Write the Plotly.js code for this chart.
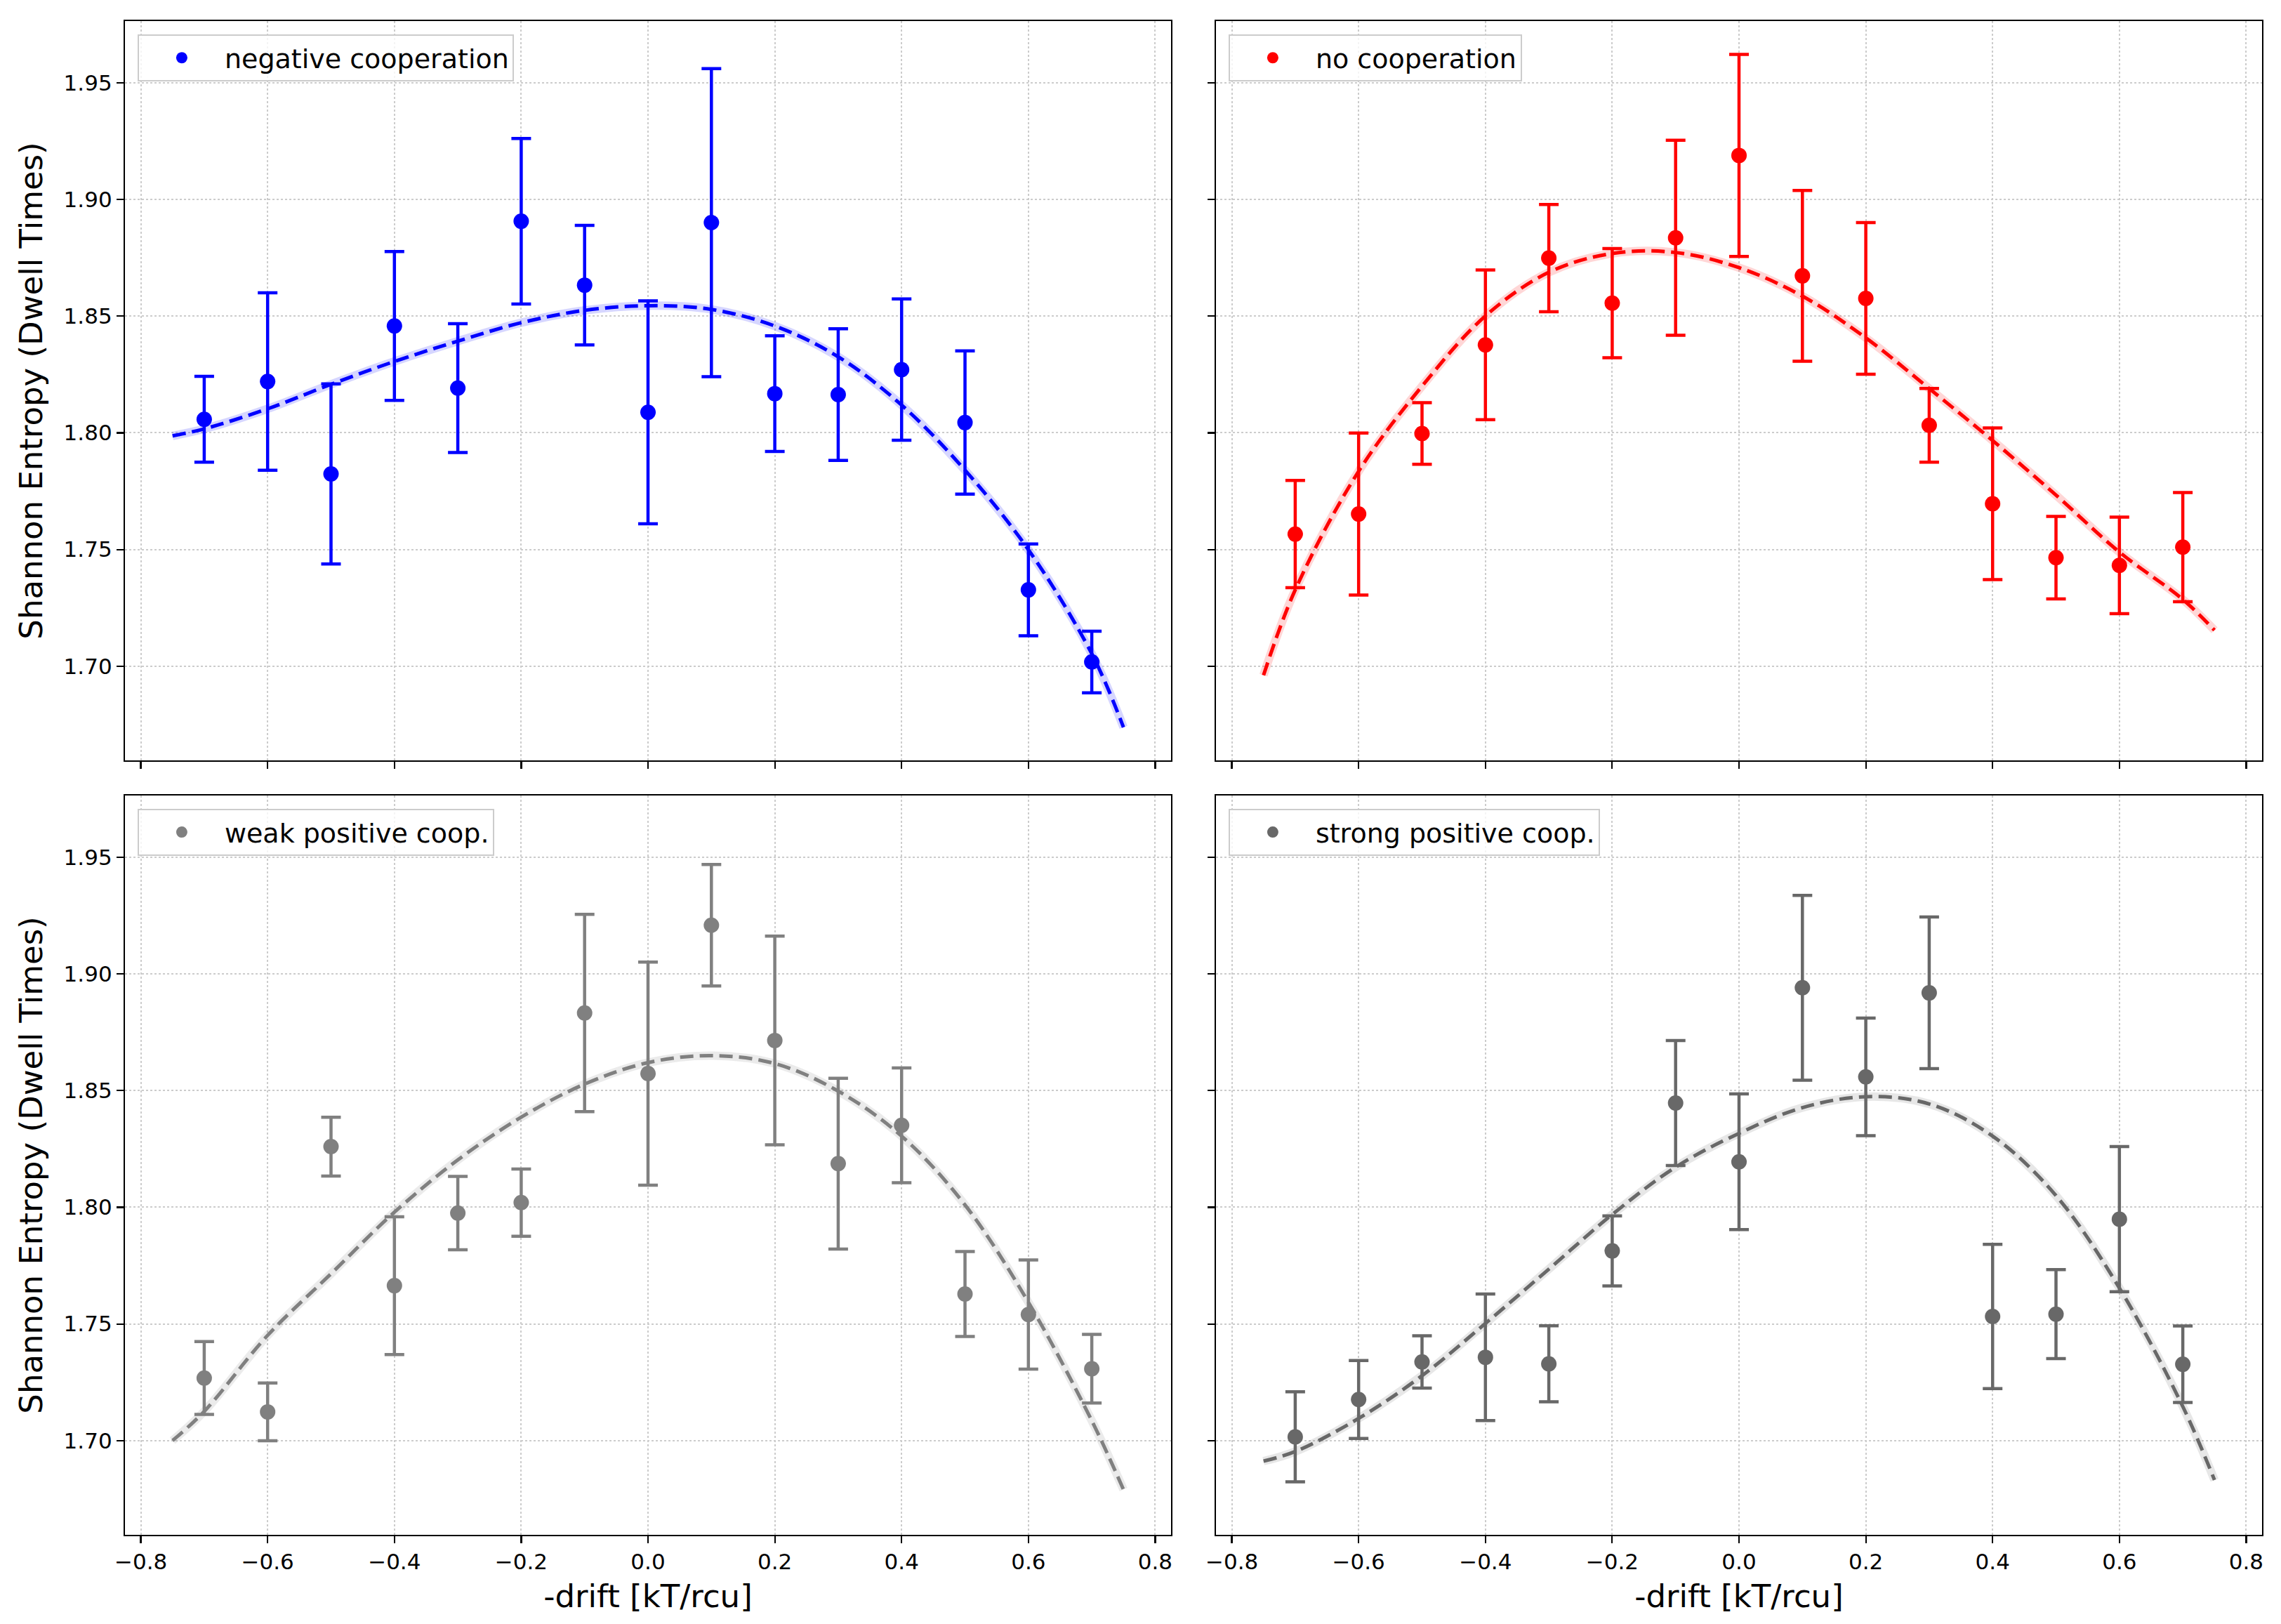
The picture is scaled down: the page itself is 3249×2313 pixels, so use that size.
<!DOCTYPE html>
<html>
<head>
<meta charset="utf-8">
<script src="https://cdn.plot.ly/plotly-3.0.1.min.js"></script>
<style>
  html, body { margin: 0; padding: 0; background: #fff; }
</style>
</head>
<body>
<div id="chart" style="width:3249px;height:2313px;"></div>
<script>
// drift values where entropy was measured
var driftX = [-0.7, -0.6, -0.5, -0.4, -0.3, -0.2, -0.1, 0.0, 0.1, 0.2, 0.3, 0.4, 0.5, 0.6, 0.7];

var negY   = [1.8058, 1.8220, 1.7824, 1.8458, 1.8192, 1.8907, 1.8633, 1.8088, 1.8901, 1.8168, 1.8164, 1.8271, 1.8044, 1.7327, 1.7018];
var negErr = [0.0184, 0.0380, 0.0386, 0.0319, 0.0276, 0.0355, 0.0256, 0.0478, 0.0660, 0.0248, 0.0282, 0.0303, 0.0307, 0.0197, 0.0132];

var noY    = [1.7566, 1.7652, 1.7997, 1.8377, 1.8749, 1.8556, 1.8836, 1.9189, 1.8673, 1.8576, 1.8032, 1.7696, 1.7465, 1.7432, 1.7510];
var noErr  = [0.0230, 0.0347, 0.0132, 0.0321, 0.0230, 0.0234, 0.0418, 0.0433, 0.0366, 0.0325, 0.0158, 0.0325, 0.0177, 0.0207, 0.0234];

var weakY   = [1.7268, 1.7123, 1.8260, 1.7664, 1.7975, 1.8020, 1.8833, 1.8573, 1.9209, 1.8715, 1.8187, 1.8351, 1.7628, 1.7540, 1.7308];
var weakErr = [0.0156, 0.0124, 0.0126, 0.0295, 0.0157, 0.0144, 0.0423, 0.0478, 0.0260, 0.0447, 0.0366, 0.0246, 0.0182, 0.0234, 0.0147];

var strongY   = [1.7016, 1.7176, 1.7337, 1.7357, 1.7329, 1.7813, 1.8447, 1.8195, 1.8941, 1.8559, 1.8919, 1.7532, 1.7542, 1.7949, 1.7327];
var strongErr = [0.0193, 0.0167, 0.0112, 0.0271, 0.0163, 0.0150, 0.0268, 0.0291, 0.0396, 0.0252, 0.0325, 0.0309, 0.0191, 0.0311, 0.0164];

// fitted curves
var fitX = [-0.75, -0.7, -0.6, -0.5, -0.4, -0.3, -0.2, -0.1, 0.0, 0.1, 0.2, 0.3, 0.4, 0.5, 0.6, 0.7, 0.75];
var negFit    = [1.7987, 1.8017, 1.8103, 1.8208, 1.8306, 1.8393, 1.8472, 1.8525, 1.8545, 1.8529, 1.8458, 1.8326, 1.8119, 1.7840, 1.7499, 1.7053, 1.6738];
var noFit     = [1.6961, 1.7327, 1.7835, 1.8200, 1.8501, 1.8688, 1.8769, 1.8773, 1.8708, 1.8586, 1.8407, 1.8190, 1.7967, 1.7733, 1.7489, 1.7286, 1.7154];
var weakFit   = [1.7000, 1.7125, 1.7451, 1.7715, 1.7979, 1.8203, 1.8386, 1.8528, 1.8620, 1.8650, 1.8616, 1.8498, 1.8305, 1.8010, 1.7593, 1.7085, 1.6790];
var strongFit = [1.6912, 1.6953, 1.7095, 1.7278, 1.7502, 1.7735, 1.7969, 1.8172, 1.8317, 1.8427, 1.8474, 1.8443, 1.8305, 1.8050, 1.7654, 1.7146, 1.6831];

var labels = ['negative cooperation', 'no cooperation', 'weak positive coop.', 'strong positive coop.'];

var panels = [
  {y: negY, err: negErr, fit: negFit, color: '#0000ff', band: 'rgba(0,0,255,0.16)', xa: 'x', ya: 'y', legend: 'legend'},
  {y: noY, err: noErr, fit: noFit, color: '#ff0000', band: 'rgba(255,0,0,0.16)', xa: 'x2', ya: 'y2', legend: 'legend2'},
  {y: weakY, err: weakErr, fit: weakFit, color: '#808080', band: 'rgba(128,128,128,0.16)', xa: 'x3', ya: 'y3', legend: 'legend3'},
  {y: strongY, err: strongErr, fit: strongFit, color: '#686868', band: 'rgba(104,104,104,0.16)', xa: 'x4', ya: 'y4', legend: 'legend4'}
];

var data = [];
panels.forEach(function(p, i) {
  // light band under the fit
  data.push({
    type: 'scatter', mode: 'lines', x: fitX, y: p.fit,
    xaxis: p.xa, yaxis: p.ya, showlegend: false, hoverinfo: 'skip',
    line: {color: p.band, width: 12, shape: 'spline'}
  });
  data.push({
    type: 'scatter', mode: 'lines', x: fitX, y: p.fit,
    xaxis: p.xa, yaxis: p.ya, showlegend: false,
    line: {color: p.color, width: 5, dash: '19px,9px', shape: 'spline'}
  });
  data.push({
    type: 'scatter', mode: 'markers', name: labels[i], x: driftX, y: p.y,
    xaxis: p.xa, yaxis: p.ya, legend: p.legend,
    marker: {color: p.color, size: 22},
    error_y: {type: 'data', array: p.err, visible: true, color: p.color, thickness: 4.5, width: 14}
  });
});

var yRange = [1.6596, 1.9765];
var xRange = [-0.825, 0.825];
var tickFont = {family: 'DejaVu Sans', size: 31, color: '#000'};
var titleFont = {family: 'DejaVu Sans', size: 45, color: '#000'};

function xAxis(dom, anchor, showLabels) {
  var a = {
    domain: dom, anchor: anchor, range: xRange, dtick: 0.2, tick0: -0.8, tickformat: '.1f',
    showticklabels: showLabels, ticks: 'outside', ticklen: 10, tickwidth: 2.2, tickcolor: '#000',
    showline: true, linecolor: '#000', linewidth: 2.2, mirror: true, zeroline: false,
    showgrid: true, gridcolor: '#cccccc', gridwidth: 2, griddash: 'dot',
    tickfont: tickFont, automargin: false
  };
  if (showLabels) {
    a.title = {text: '-drift [kT/rcu]', font: titleFont, standoff: 16};
  }
  return a;
}
function yAxis(dom, anchor, showLabels) {
  var a = {
    domain: dom, anchor: anchor, range: yRange, dtick: 0.05, tick0: 1.7, tickformat: '.2f',
    showticklabels: showLabels, ticks: 'outside', ticklen: 10, tickwidth: 2.2, tickcolor: '#000',
    showline: true, linecolor: '#000', linewidth: 2.2, mirror: true, zeroline: false,
    showgrid: true, gridcolor: '#cccccc', gridwidth: 2, griddash: 'dot',
    tickfont: tickFont, automargin: false
  };
  if (showLabels) {
    a.title = {text: 'Shannon Entropy (Dwell Times)', font: titleFont, standoff: 16};
  }
  return a;
}

var colL = [0.05479, 0.51339], colR = [0.53309, 0.99169];
var rowT = [0.53178, 0.98703], rowB = [0.05491, 0.51016];

function legendAt(x, y) {
  return {
    x: x, y: y, xanchor: 'left', yanchor: 'top', xref: 'paper', yref: 'paper',
    bgcolor: 'rgba(255,255,255,0.8)', bordercolor: '#cccccc', borderwidth: 2,
    font: {family: 'DejaVu Sans', size: 38, color: '#000'}, itemwidth: 112
  };
}

var layout = {
  width: 3249, height: 2313,
  margin: {l: 0, r: 0, t: 0, b: 0},
  paper_bgcolor: '#fff', plot_bgcolor: '#fff',
  font: {family: 'DejaVu Sans', color: '#000'},
  xaxis: xAxis(colL, 'y', false),
  yaxis: yAxis(rowT, 'x', true),
  xaxis2: xAxis(colR, 'y2', false),
  yaxis2: yAxis(rowT, 'x2', false),
  xaxis3: xAxis(colL, 'y3', true),
  yaxis3: yAxis(rowB, 'x3', true),
  xaxis4: xAxis(colR, 'y4', true),
  yaxis4: yAxis(rowB, 'x4', false),
  legend: legendAt(0.0603, 0.9788),
  legend2: legendAt(0.5386, 0.9788),
  legend3: legendAt(0.0603, 0.5020),
  legend4: legendAt(0.5386, 0.5020)
};

Plotly.newPlot('chart', data, layout, {staticPlot: true});
</script>
</body>
</html>
